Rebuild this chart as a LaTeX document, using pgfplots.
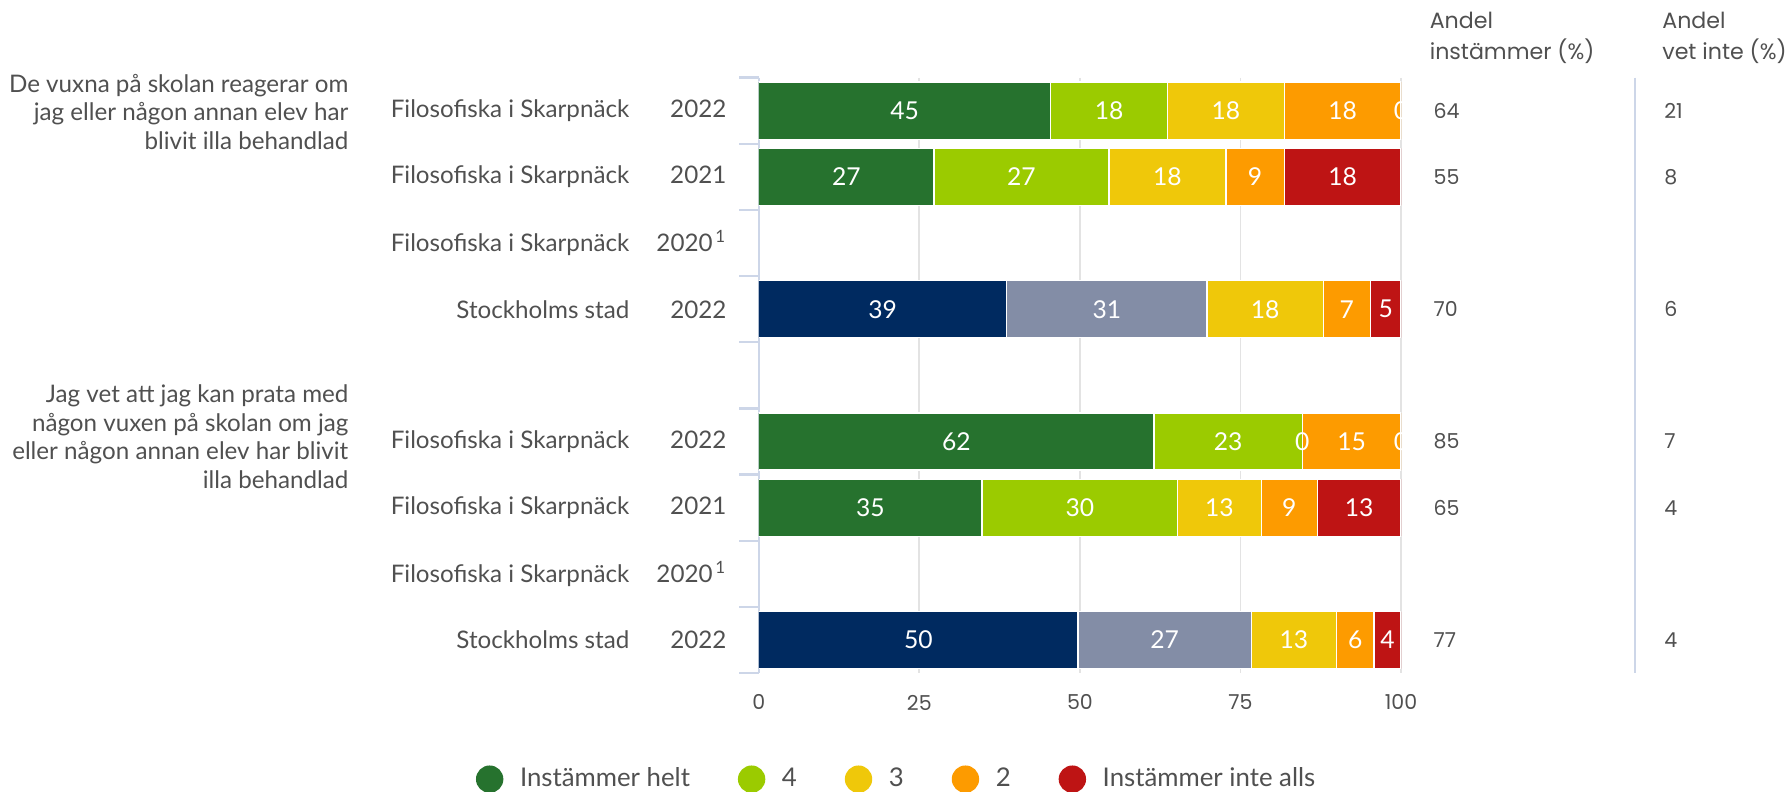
\documentclass[border=0pt]{standalone}
\usepackage{pgfplots}
\pgfplotsset{compat=1.18}
\usepackage{pgfplotstable}
\usepackage{fontspec}
\setmainfont{Lato}
\newfontfamily\numfont{Poppins}
\definecolor{cA}{HTML}{26722E}
\definecolor{cB}{HTML}{9BCB00}
\definecolor{cC}{HTML}{EFC80A}
\definecolor{cD}{HTML}{FD9B00}
\definecolor{cE}{HTML}{BE1414}
\definecolor{cNavy}{HTML}{002A60}
\definecolor{cGray}{HTML}{838DA6}
\definecolor{txt}{HTML}{505050}
\definecolor{axisblue}{HTML}{CDD6E8}
\definecolor{gridgray}{HTML}{E3E3E3}

\pgfplotstableread{
y  a      b      c      d      e      s
0  45.45  18.18  18.18  18.18  0      0
1  27.27  27.27  18.18  9.09   18.18  0
3  38.6   31.2   18.1   7.3    4.8    1
5  61.54  23.08  0      15.38  0      0
6  34.78  30.43  13.04  8.70   13.04  0
8  49.7   27.0   13.2   5.9    4.2    1
}\bars
\pgfplotstableread{
y ins vet
0 64 21
1 55 8
3 70 6
5 85 7
6 65 4
8 77 4
}\side

\newcommand{\yr}[1]{\makebox[42.5pt][r]{#1}}

\begin{document}
\begin{tikzpicture}
\useasboundingbox (0,0) rectangle (784pt,347pt);
\begin{axis}[
  at={(332.5pt,52pt)}, anchor=south west,
  scale only axis, width=281.5pt, height=261pt,
  xbar stacked, bar width=25pt,
  xmin=0, xmax=100, ymin=-0.5, ymax=8.5, y dir=reverse,
  axis x line*=bottom, axis y line*=left,
  x axis line style={draw=none},
  y axis line style={draw=axisblue, line width=1pt},
  xtick={0,25,50,75,100},
  xmajorgrids, grid style={draw=gridgray, line width=0.8pt},
  xtick style={draw=none},
  xticklabel style={font=\numfont\fontsize{9}{11}\selectfont, text=txt, yshift=-6pt},
  /pgf/number format/assume math mode=true,
  ytick={0,1,2,3,5,6,7,8},
  yticklabels={
    Filosofiska i Skarpnäck\yr{2022},
    Filosofiska i Skarpnäck\yr{2021},
    Filosofiska i Skarpnäck\yr{2020\textsuperscript{\,1}},
    Stockholms stad\yr{2022},
    Filosofiska i Skarpnäck\yr{2022},
    Filosofiska i Skarpnäck\yr{2021},
    Filosofiska i Skarpnäck\yr{2020\textsuperscript{\,1}},
    Stockholms stad\yr{2022}},
  major tick length=0pt,
  yticklabel style={anchor=east, inner sep=0pt, xshift=-14pt, font=\fontsize{10.6}{12}\selectfont, text=txt},
  extra y ticks={-0.5,0.5,1.5,2.5,3.5,4.5,5.5,6.5,7.5,8.5},
  extra y tick labels={},
  extra y tick style={major tick length=8.5pt, tick align=outside, tick style={draw=axisblue, line width=1pt}},
  legend style={at={(0.2167,-0.178)}, anchor=center, draw=none, fill=none,
    legend columns=-1, font=\fontsize{11.3}{13}\selectfont, text=txt,
    /tikz/every even column/.append style={column sep=19pt}},
  legend image code/.code={\fill[#1,draw=none] (0pt,0pt) circle (6pt); \path (11pt,0pt);},
]
\addplot[fill=cNavy, draw=white, line width=0.6pt, forget plot] table[y=y, x expr=\thisrow{a}*\thisrow{s}] {\bars};
\addplot[fill=cA, draw=white, line width=0.6pt] table[y=y, x expr=\thisrow{a}*(1-\thisrow{s})] {\bars};
\addlegendentry{Instämmer helt}
\addplot[fill=cGray, draw=white, line width=0.6pt, forget plot] table[y=y, x expr=\thisrow{b}*\thisrow{s}] {\bars};
\addplot[fill=cB, draw=white, line width=0.6pt] table[y=y, x expr=\thisrow{b}*(1-\thisrow{s})] {\bars};
\addlegendentry{4}
\addplot[fill=cC, draw=white, line width=0.6pt] table[y=y, x=c] {\bars};
\addlegendentry{3}
\addplot[fill=cD, draw=white, line width=0.6pt] table[y=y, x=d] {\bars};
\addlegendentry{2}
\addplot[fill=cE, draw=white, line width=0.6pt] table[y=y, x=e] {\bars};
\addlegendentry{Instämmer inte alls}
\end{axis}

\begin{axis}[
  at={(332.5pt,52pt)}, anchor=south west,
  scale only axis, width=281.5pt, height=261pt,
  xmin=0, xmax=100, ymin=-0.5, ymax=8.5, y dir=reverse,
  hide axis, clip=false,
  /pgf/number format/assume math mode=true,
  point meta=explicit,
  nodes near coords={\pgfmathprintnumber[fixed,precision=0]{\pgfplotspointmeta}},
  every node near coord/.style={anchor=center, text=white, font=\fontsize{10.8}{12}\selectfont},
]
\addplot[draw=none, mark=none] table[y=y, x expr=\thisrow{a}/2, meta=a] {\bars};
\addplot[draw=none, mark=none] table[y=y, x expr=\thisrow{a}+\thisrow{b}/2, meta=b] {\bars};
\addplot[draw=none, mark=none] table[y=y, x expr=\thisrow{a}+\thisrow{b}+\thisrow{c}/2, meta=c] {\bars};
\addplot[draw=none, mark=none] table[y=y, x expr=\thisrow{a}+\thisrow{b}+\thisrow{c}+\thisrow{d}/2, meta=d] {\bars};
\addplot[draw=none, mark=none] table[y=y, x expr=\thisrow{a}+\thisrow{b}+\thisrow{c}+\thisrow{d}+\thisrow{e}/2, meta=e] {\bars};
\addplot[draw=none, mark=none, nodes near coords={\pgfmathprintnumber{\pgfplotspointmeta}},
  every node near coord/.style={anchor=west, inner sep=0pt, text=txt, font=\numfont\fontsize{9}{11}\selectfont}]
  table[y=y, x expr=105, meta=ins] {\side};
\addplot[draw=none, mark=none, nodes near coords={\pgfmathprintnumber{\pgfplotspointmeta}},
  every node near coord/.style={anchor=west, inner sep=0pt, text=txt, font=\numfont\fontsize{9}{11}\selectfont}]
  table[y=y, x expr=140.9, meta=vet] {\side};
\draw[axisblue, line width=1pt] (axis cs:136.4,-0.5) -- (axis cs:136.4,8.5);
\node[anchor=west, align=left, inner sep=0pt, text=txt, font=\numfont\fontsize{9.7}{13.5}\selectfont] at (axis cs:104.4,-1.095) {Andel\\instämmer (\%)};
\node[anchor=west, align=left, inner sep=0pt, text=txt, font=\numfont\fontsize{9.7}{13.5}\selectfont] at (axis cs:140.6,-1.095) {Andel\\vet inte (\%)};
\node[anchor=east, align=right, inner sep=0pt, text=txt, font=\fontsize{10.6}{12.5}\selectfont] at (axis cs:-63.8,0.02) {De vuxna på skolan reagerar om\\jag eller någon annan elev har\\blivit illa behandlad};
\node[anchor=east, align=right, inner sep=0pt, text=txt, font=\fontsize{10.6}{12.5}\selectfont] at (axis cs:-63.8,4.93) {Jag vet att jag kan prata med\\någon vuxen på skolan om jag\\eller någon annan elev har blivit\\illa behandlad};
\end{axis}
\end{tikzpicture}
\end{document}
